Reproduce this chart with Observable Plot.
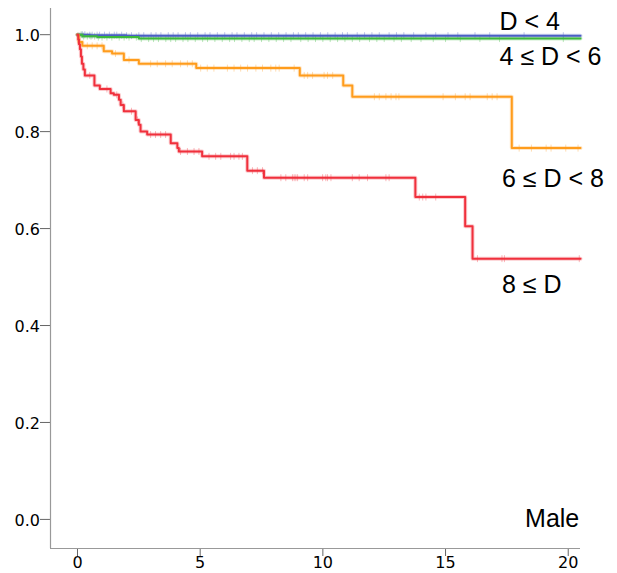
<!DOCTYPE html>
<html>
<head>
<meta charset="utf-8">
<script src="https://cdn.jsdelivr.net/npm/d3@7"></script>
<script src="https://cdn.jsdelivr.net/npm/@observablehq/plot@0.6"></script>
<style>
  html, body { margin: 0; padding: 0; background: #fff; }
  #chart svg { display: block; font-family: Arial, "Liberation Sans", sans-serif; }
</style>
</head>
<body>
<div id="chart"></div>
<script>
// ---- data ----
const groups = ["D < 4", "4 ≤ D < 6", "6 ≤ D < 8", "8 ≤ D"];
const panelLabel = "Male";
const xTicks = [0, 5, 10, 15, 20];
const yTicks = [0.0, 0.2, 0.4, 0.6, 0.8, 1.0];

const blueT = [0, 0.5, 2.0, 20.5];
const blueS = [1.0, 0.999, 0.998, 0.998];
const greenT = [0, 0.2, 0.8, 2.5, 20.5];
const greenS = [1.0, 0.997, 0.995, 0.992, 0.992];
const orangeT = [0, 0.05, 0.2, 1.07, 1.41, 1.89, 2.5, 4.84, 9.06, 10.83, 11.2, 17.7, 20.5];
const orangeS = [1.0, 0.985, 0.977, 0.966, 0.961, 0.948, 0.940, 0.931, 0.916, 0.895, 0.872, 0.766, 0.766];
const redT = [0, 0.03, 0.06, 0.1, 0.14, 0.18, 0.24, 0.30, 0.69, 0.91, 1.35, 1.48, 1.69, 1.76, 1.89, 2.37, 2.50, 2.57, 2.84, 3.80, 4.07, 4.13, 5.08, 6.92, 7.6, 13.77, 15.8, 16.1, 20.5];
const redS = [1.0, 0.99, 0.98, 0.97, 0.955, 0.94, 0.928, 0.916, 0.895, 0.888, 0.879, 0.876, 0.866, 0.855, 0.842, 0.824, 0.814, 0.800, 0.794, 0.776, 0.766, 0.759, 0.749, 0.7195, 0.705, 0.665, 0.605, 0.538, 0.538];

// censoring times
const blueC = [0.2,0.3,0.5,0.6,0.8,0.9,1.1,1.3,1.5,1.6,1.8,2.0,2.2,2.5,2.7,3.0,3.2,3.4,3.7,3.9,4.1,4.4,4.6,4.9,5.2,5.4,5.7,6.0,6.3,6.5,6.8,7.1,7.3,7.6,7.9,8.2,8.5,8.8,9.0,9.3,9.6,9.9,10.2,10.5,10.8,11.0,11.4,11.7,12.0,12.3,12.7,13.0,13.3,13.7,14.2,14.6,15.1,15.5,16.2,16.8,18.2,19.8];
const greenC = [0.15,0.25,0.4,0.55,0.7,0.85,1.0,1.2,1.4,1.7,1.9,2.1,2.4,2.6,2.9,3.1,3.3,3.6,3.8,4.0,4.3,4.5,4.8,5.1,5.3,5.6,5.9,6.2,6.4,6.7,7.0,7.2,7.5,7.8,8.1,8.4,8.7,9.1,9.4,9.7,10.0,10.3,10.6,10.9,11.2,11.5,11.9,12.2,12.5,12.9,13.2,13.6,14.0,14.5,15.0,15.6,16.4,17.2,19.8];
const orangeC = [0.4,0.6,0.8,1.0,1.55,2.1,2.98,3.25,3.59,3.86,4.2,4.48,4.68,5.02,5.29,5.56,6.11,6.38,6.65,6.93,7.27,7.54,7.88,8.08,8.22,8.83,9.24,9.38,9.58,10.05,10.19,10.4,12.1,12.3,12.57,12.78,12.98,13.1,14.9,15.4,15.8,16.0,16.7,16.9,17.1,18.0,18.5,19.1,19.3,19.9,20.4];
const redC = [0.5,1.2,1.6,1.85,2.2,2.45,2.98,3.18,3.39,3.59,4.2,4.48,4.75,4.95,5.36,5.63,5.84,6.24,6.38,6.58,6.72,7.13,7.33,7.54,8.29,8.49,8.76,8.83,8.9,8.97,9.24,9.38,9.99,10.12,10.19,10.33,11.2,11.48,11.82,12.57,12.7,13.93,14.07,14.2,14.6,16.3,17.3,17.4,20.45];

const colors = ["#4a5fc4", "#3cb83c", "#ff9c1c", "#f0303c"];

// ---- build tables ----
const curves = [[blueT, blueS], [greenT, greenS], [orangeT, orangeS], [redT, redS]];
const censors = [blueC, greenC, orangeC, redC];
const lineData = [];
const censorData = [];
curves.forEach(([T, S], g) => {
  T.forEach((t, i) => lineData.push({t, s: S[i], g: groups[g]}));
  censors[g].forEach(t => {
    let k = 0;
    for (let i = 0; i < T.length; i++) if (T[i] <= t) k = i;
    censorData.push({t, s: S[k], g: groups[g]});
  });
});

// label positions (layout)
const xDomain = [-1.1, 20.5];
const yDomain = [-0.06, 1.054];
const labelX = [17.2, 17.2, 17.3, 17.3];
const labelY = [1.026, 0.953, 0.703, 0.4835];
const labelData = groups.map((name, i) => ({name, x: labelX[i], y: labelY[i]}));

const vline = {
  draw(context, size) {
    const h = Math.sqrt(size / Math.PI);
    context.moveTo(0, -h);
    context.lineTo(0, h);
  }
};

const colorScale = {domain: groups, range: colors};
const fmt = d3.format(".1f");
const tickFont = '"DejaVu Sans", Arial, sans-serif';

const chart = Plot.plot({
  width: 617,
  height: 573,
  marginLeft: 50,
  marginRight: 37,
  marginTop: 8,
  marginBottom: 25,
  style: {fontFamily: 'Arial, "Liberation Sans", sans-serif', background: "#fff", color: "#000"},
  color: colorScale,
  x: {domain: xDomain},
  y: {domain: yDomain},
  marks: [
    Plot.axisY({ticks: yTicks, tickFormat: () => "", tickSize: 10, stroke: "#666", label: null}),
    Plot.axisX({ticks: xTicks, tickFormat: () => "", tickSize: 8, stroke: "#666", label: null}),
    Plot.text(yTicks, {x: xDomain[0], y: d => d, text: d => fmt(d), textAnchor: "end", dx: -10.5, dy: 1, fontSize: 16, fontFamily: tickFont, fill: "#000"}),
    Plot.text(xTicks, {x: d => d, y: yDomain[0], text: d => String(d), dy: 14, fontSize: 16, fontFamily: tickFont, fill: "#000"}),
    Plot.ruleX([xDomain[0]], {stroke: "#999", strokeWidth: 1.2}),
    Plot.ruleY([yDomain[0]], {stroke: "#999", strokeWidth: 1.2}),
    Plot.dot(censorData, {x: "t", y: "s", stroke: "g", symbol: vline, r: 3.5, strokeWidth: 1, strokeOpacity: 0.35}),
    Plot.line(lineData, {x: "t", y: "s", z: "g", stroke: "g", curve: "step-after", strokeWidth: 4, strokeOpacity: 0.25}),
    Plot.line(lineData, {x: "t", y: "s", z: "g", stroke: "g", curve: "step-after", strokeWidth: 2}),
    Plot.text(labelData, {x: "x", y: "y", text: "name", textAnchor: "start", fontSize: 25, fill: "#000"}),
    Plot.text([panelLabel], {x: 20.45, y: 0.0, text: d => d, textAnchor: "end", fontSize: 25, fill: "#000"})
  ]
});
document.getElementById("chart").appendChild(chart);
</script>
</body>
</html>
